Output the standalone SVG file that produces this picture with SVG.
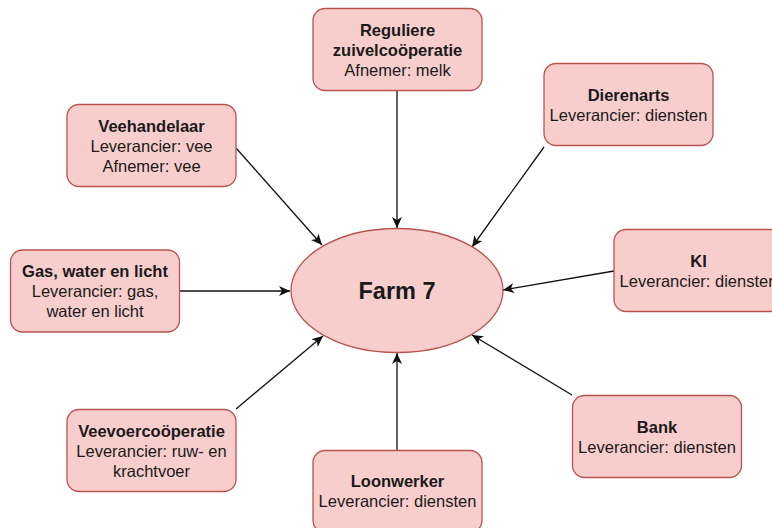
<svg xmlns="http://www.w3.org/2000/svg" width="772" height="528" viewBox="0 0 772 528">
  <style>
    .box { fill: #f8cecc; stroke: #b85450; stroke-width: 1.3; }
    .lbl { font-family: "Liberation Sans", Arial, sans-serif; font-size: 16.5px; fill: #1a1a1a; text-anchor: middle; }
    .b { font-weight: bold; }
    .edge { stroke: #111; stroke-width: 1.3; fill: none; marker-end: url(#arrow); }
  </style>
  <defs>
    <marker id="arrow" markerUnits="userSpaceOnUse" markerWidth="12" markerHeight="10" refX="11" refY="5" orient="auto" viewBox="0 0 12 10">
      <path d="M0,0 L11,5 L0,10 L3,5 Z" fill="#111"/>
    </marker>
  </defs>
  <rect width="772" height="528" fill="#ffffff"/>

  <g id="connectors">
    <path class="edge" d="M236,148 L322,245"/>
    <path class="edge" d="M397,90 L397,228"/>
    <path class="edge" d="M544,147 L472,247"/>
    <path class="edge" d="M180,291 L290,291"/>
    <path class="edge" d="M614,271 L503,290"/>
    <path class="edge" d="M236,409 L323,336"/>
    <path class="edge" d="M397,450 L397,353"/>
    <path class="edge" d="M572,395 L472,335"/>
  </g>

  <g id="farm7">
    <ellipse class="box" cx="397" cy="290.5" rx="106" ry="62"/>
    <text class="lbl b" x="397" y="299" style="font-size:23.5px">Farm 7</text>
  </g>

  <g id="zuivelcooperatie">
    <rect class="box" x="313" y="8.5" width="169" height="82" rx="12"/>
    <text class="lbl b" x="397.5" y="35.5">Reguliere</text>
    <text class="lbl b" x="397.5" y="55.5">zuivelcoöperatie</text>
    <text class="lbl" x="397.5" y="75.5">Afnemer: melk</text>
  </g>

  <g id="veehandelaar">
    <rect class="box" x="67" y="104.5" width="169" height="82" rx="12"/>
    <text class="lbl b" x="151.5" y="131.5">Veehandelaar</text>
    <text class="lbl" x="151.5" y="151.5">Leverancier: vee</text>
    <text class="lbl" x="151.5" y="171.5">Afnemer: vee</text>
  </g>

  <g id="dierenarts">
    <rect class="box" x="544" y="63.5" width="169" height="82" rx="12"/>
    <text class="lbl b" x="628.5" y="100.5">Dierenarts</text>
    <text class="lbl" x="628.5" y="120.5">Leverancier: diensten</text>
  </g>

  <g id="gas-water-licht">
    <rect class="box" x="10.5" y="250" width="169" height="82" rx="12"/>
    <text class="lbl b" x="95" y="277">Gas, water en licht</text>
    <text class="lbl" x="95" y="297">Leverancier: gas,</text>
    <text class="lbl" x="95" y="317">water en licht</text>
  </g>

  <g id="ki">
    <rect class="box" x="614" y="229.5" width="169" height="82" rx="12"/>
    <text class="lbl b" x="698.5" y="266.5">KI</text>
    <text class="lbl" x="698.5" y="286.5">Leverancier: diensten</text>
  </g>

  <g id="veevoercooperatie">
    <rect class="box" x="67" y="409.5" width="169" height="82" rx="12"/>
    <text class="lbl b" x="151.5" y="436.5">Veevoercoöperatie</text>
    <text class="lbl" x="151.5" y="456.5">Leverancier: ruw- en</text>
    <text class="lbl" x="151.5" y="476.5">krachtvoer</text>
  </g>

  <g id="bank">
    <rect class="box" x="572.5" y="395.5" width="169" height="82" rx="12"/>
    <text class="lbl b" x="657" y="432.5">Bank</text>
    <text class="lbl" x="657" y="452.5">Leverancier: diensten</text>
  </g>

  <g id="loonwerker">
    <rect class="box" x="313" y="450.5" width="169" height="82" rx="12"/>
    <text class="lbl b" x="397.5" y="487">Loonwerker</text>
    <text class="lbl" x="397.5" y="507">Leverancier: diensten</text>
  </g>
</svg>
